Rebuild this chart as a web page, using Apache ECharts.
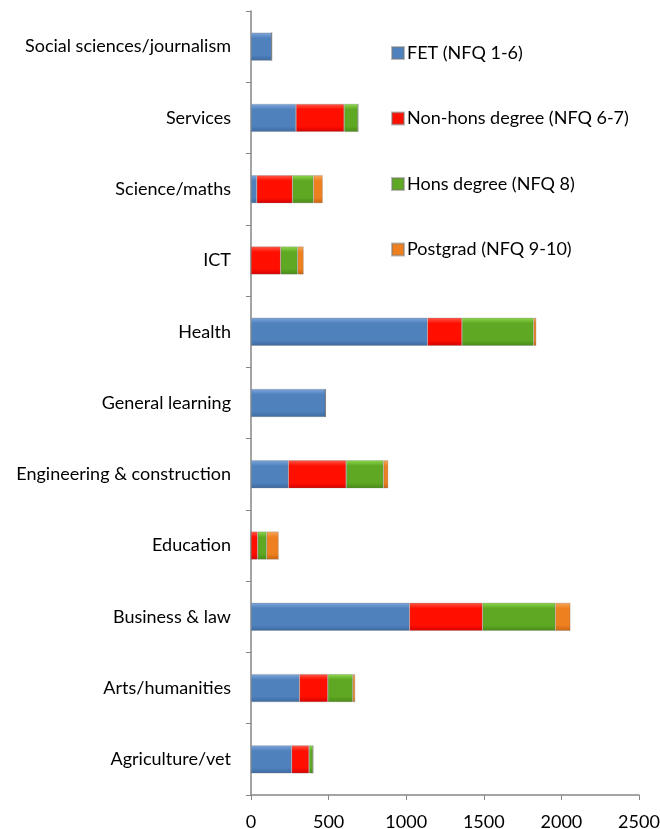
<!DOCTYPE html>
<html>
<head>
<meta charset="utf-8">
<script src="https://cdn.jsdelivr.net/npm/echarts@6/dist/echarts.min.js"></script>
<style>
  html, body { margin: 0; padding: 0; background: #fff; }
  #main { width: 660px; height: 829px; }
</style>
</head>
<body>
<div id="main"></div>
<script>
// categories, bottom to top
var fields = ['Agriculture/vet', 'Arts/humanities', 'Business & law', 'Education',
  'Engineering & construction', 'General learning', 'Health', 'ICT',
  'Science/maths', 'Services', 'Social sciences/journalism'];

var fet      = [262, 312, 1021, 0, 241, 480, 1137, 0, 37, 290, 133];
var nonHons  = [112, 183, 471, 43, 372, 0, 222, 191, 230, 310, 0];
var hons     = [26, 161, 469, 58, 241, 0, 462, 110, 135, 90, 0];
var postgrad = [0, 15, 97, 77, 30, 0, 17, 38, 60, 0, 0];

var names = ['FET (NFQ 1-6)', 'Non-hons degree (NFQ 6-7)', 'Hons degree (NFQ 8)', 'Postgrad (NFQ 9-10)'];
var xTicks = [0, 500, 1000, 1500, 2000, 2500];

var fontFam = 'Lato, "Noto Sans", sans-serif';

// top light / base / bottom dark, a rough bevel look
function bevel(light, base, dark) {
  return new echarts.graphic.LinearGradient(0, 0, 0, 1, [
    { offset: 0, color: light },
    { offset: 0.2, color: base },
    { offset: 0.8, color: base },
    { offset: 1, color: dark }
  ]);
}

var fills = [
  bevel('#7fa7dc', '#4f81bd', '#3d6a9f'),
  bevel('#ff5a4a', '#ff0f00', '#d40000'),
  bevel('#8fd94e', '#5ea823', '#4a8a18'),
  bevel('#f8a85a', '#ef8020', '#c9650f')
];
var solid = ['#4f81bd', '#ff0f00', '#5ea823', '#ef8020'];

function makeSeries(i, values) {
  return {
    name: names[i],
    type: 'bar',
    stack: 'total',
    barWidth: 28,
    data: values,
    itemStyle: { color: fills[i], borderColor: 'rgba(120,120,120,0.5)', borderWidth: 0.6 }
  };
}

var myChart = echarts.init(document.getElementById('main'));

var option = {
  animation: false,
  color: solid,
  textStyle: { fontFamily: fontFam },
  grid: { left: 251, right: 21, top: 11, bottom: 34, outerBoundsMode: 'none' },
  legend: {
    orient: 'vertical',
    left: 386,
    top: 37,
    itemWidth: 12,
    itemHeight: 12,
    itemGap: 43.5,
    icon: 'rect',
    data: names.map(function (n, i) { return { name: n, itemStyle: { color: solid[i] } }; }),
    textStyle: { fontFamily: fontFam, fontSize: 18, color: '#000', lineHeight: 22, padding: [0, 0, 0, -2] }
  },
  xAxis: {
    type: 'value',
    min: 0,
    max: 2500,
    interval: 500,
    axisLine: { show: true, lineStyle: { color: '#868686', width: 1.5 } },
    axisTick: { show: true, length: 5, lineStyle: { color: '#868686' } },
    splitLine: { show: false },
    axisLabel: {
      margin: 18, fontSize: 18, color: '#000', fontFamily: fontFam,
      formatter: function (v) { return xTicks.indexOf(v) >= 0 ? String(v) : ''; }
    }
  },
  yAxis: {
    type: 'category',
    data: fields,
    axisLine: { show: true, lineStyle: { color: '#868686', width: 1.5 } },
    axisTick: { show: true, length: 5, lineStyle: { color: '#868686' } },
    axisLabel: { margin: 20, fontSize: 18, color: '#000', fontFamily: fontFam }
  },
  series: [
    makeSeries(0, fet),
    makeSeries(1, nonHons),
    makeSeries(2, hons),
    makeSeries(3, postgrad)
  ]
};

myChart.setOption(option);
</script>
</body>
</html>
